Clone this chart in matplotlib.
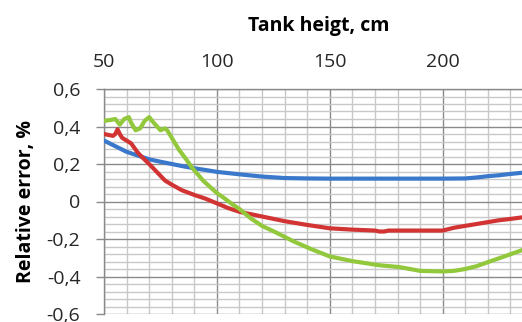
import numpy as np
import matplotlib.pyplot as plt
from matplotlib.ticker import MultipleLocator

plt.rcParams['font.family'] = ['Open Sans', 'DejaVu Sans']
plt.rcParams['axes.unicode_minus'] = False

# data
blue_x = [50, 55, 60, 65, 70, 75, 80, 85, 90, 95, 100, 110, 120, 130, 140, 150,
          160, 170, 180, 190, 200, 210, 215, 220, 225, 230, 235, 240]
blue_y = [0.325, 0.295, 0.265, 0.245, 0.225, 0.212, 0.2, 0.188, 0.177, 0.168, 0.158,
          0.145, 0.133, 0.125, 0.123, 0.122, 0.122, 0.122, 0.122, 0.122, 0.122, 0.123,
          0.128, 0.135, 0.14, 0.147, 0.153, 0.16]

red_x = [50, 52, 54, 55, 56, 57, 58, 60, 62, 65, 67, 70, 74, 77, 80, 84.5, 90, 95,
         100, 105, 110, 120, 130, 140, 150, 160, 170, 172, 174, 176, 180, 190, 200,
         205, 210, 215, 220, 225, 230, 235, 240]
red_y = [0.36, 0.355, 0.35, 0.36, 0.385, 0.36, 0.34, 0.325, 0.31, 0.26, 0.235, 0.2,
         0.15, 0.112, 0.09, 0.06, 0.035, 0.015, -0.01, -0.035, -0.055, -0.08, -0.105,
         -0.125, -0.143, -0.15, -0.155, -0.16, -0.16, -0.155, -0.155, -0.155, -0.155,
         -0.14, -0.13, -0.12, -0.11, -0.1, -0.093, -0.085, -0.075]

green_x = [50, 53, 55, 57, 59, 61, 62, 64, 66, 68, 70, 72, 75, 77, 78, 80, 83, 86.7,
           89, 94, 100, 103, 107, 110, 115, 120, 127, 134, 142, 150, 160, 172, 181,
           190, 200, 205, 210, 215, 222, 228, 235, 240]
green_y = [0.43, 0.435, 0.44, 0.41, 0.44, 0.45, 0.42, 0.38, 0.39, 0.43, 0.45, 0.42,
           0.38, 0.39, 0.38, 0.34, 0.28, 0.22, 0.18, 0.11, 0.045, 0.02, -0.016, -0.04,
           -0.09, -0.13, -0.17, -0.213, -0.255, -0.293, -0.318, -0.34, -0.35, -0.37,
           -0.373, -0.37, -0.36, -0.345, -0.315, -0.29, -0.26, -0.235]

x_ticks = [50, 100, 150, 200]
y_ticks = [0.6, 0.4, 0.2, 0, -0.2, -0.4, -0.6]
y_tick_labels = ['0,6', '0,4', '0,2', '0', '-0,2', '-0,4', '-0,6']

fig = plt.figure(figsize=(5.22, 3.22), dpi=100)
ax = fig.add_axes([104 / 522, 1 - 314 / 322, 429 / 522, 225 / 322])

ax.plot(blue_x, blue_y, color='#3a78cc', lw=3, zorder=3)
ax.plot(red_x, red_y, color='#d23434', lw=3, zorder=3)
ax.plot(green_x, green_y, color='#92c83c', lw=3, zorder=3)

ax.set_xlim(50, 240)
ax.set_ylim(-0.6, 0.6)
ax.set_xticks(x_ticks)
ax.xaxis.set_minor_locator(MultipleLocator(10))
ax.set_yticks(y_ticks)
ax.set_yticklabels(y_tick_labels)
ax.yaxis.set_minor_locator(MultipleLocator(0.04))

ax.grid(which='major', color='#8a8a8a', lw=1.0)
ax.grid(which='minor', color='#c8c8c8', lw=1.0)
ax.set_axisbelow(True)

ax.xaxis.tick_top()
ax.tick_params(axis='x', which='both', length=0, pad=13, labelsize=14, colors='#262626')
ax.tick_params(axis='y', which='major', length=6, width=1, color='#8a8a8a',
               pad=11, labelsize=14, labelcolor='#262626')
ax.tick_params(axis='y', which='minor', length=0)

for s in ['right', 'bottom']:
    ax.spines[s].set_visible(False)
for s in ['left', 'top']:
    ax.spines[s].set_color('#8a8a8a')
    ax.spines[s].set_linewidth(1.0)

ax.xaxis.set_label_position('top')
ax.set_xlabel('Tank heigt, cm', fontsize=14, fontweight='bold', labelpad=15.5)
ax.set_ylabel('Relative error, %', fontsize=14, fontweight='bold', labelpad=8)

fig.savefig('out.png', dpi=100)
